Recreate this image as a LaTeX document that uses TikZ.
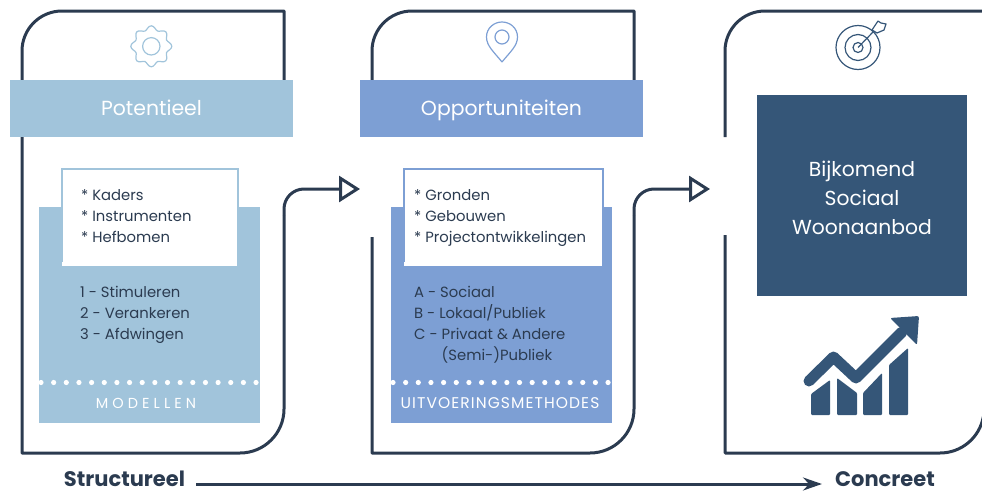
\documentclass[tikz,border=0pt]{standalone}
\usepackage{fontspec}
\setmainfont{Poppins}
\usetikzlibrary{arrows.meta}
\definecolor{inkblue}{HTML}{2B3B50}
\definecolor{navy}{HTML}{355678}
\definecolor{paleblue}{HTML}{A1C4DB}
\definecolor{midblue}{HTML}{7D9FD4}
\tikzset{
  banner/.style={fill=#1, minimum width=283pt, minimum height=57pt, inner sep=0pt, text=white, text height=15pt, text depth=5pt, font=\fontsize{20.4}{24}\selectfont},
  panel/.style={fill=#1, inner sep=0pt, anchor=north west},
  whitebox/.style={draw=#1, line width=2pt, fill=white, inner sep=0pt, anchor=north west},
  listing/.style={anchor=west, align=left, inner sep=0pt, text=inkblue, font=\fontsize{14.8}{21}\selectfont},
  caption/.style={text=white, inner sep=0pt},
  axislabel/.style={inner sep=0pt, text=inkblue, font=\fontsize{21}{23}\selectfont\bfseries},
  outline/.style={draw=inkblue, line width=3pt, line join=round},
  link/.style={outline, -{Triangle[open, length=21pt, width=26pt, line width=3pt]}}
}
\begin{document}
\begin{tikzpicture}[x=1pt, y=-1pt, >=stealth]
                \useasboundingbox (0, 0) rectangle (982, 490);
                \coordinate (hoek1) at (284, 215);
                \coordinate (hoek2) at (634, 215);
                \coordinate (pijl1) at (360, 189);
                \coordinate (pijl2) at (710, 189);
                % cards
                \draw[outline] (284, 90) -- (284, 11) -- (62, 11) arc[start angle=270, end angle=180, radius=40] -- (22, 453) -- (240, 453) arc[start angle=90, end angle=0, radius=44] -- (hoek1);
                \draw[outline] (634, 90) -- (634, 11) -- (412, 11) arc[start angle=270, end angle=180, radius=40] -- (372, 90);
                \draw[outline] (372, 237) -- (372, 453) -- (590, 453) arc[start angle=90, end angle=0, radius=44] -- (hoek2);
                \draw[outline] (982, 11) -- (765, 11) arc[start angle=270, end angle=180, radius=40] -- (725, 137);
                \draw[outline] (725, 235) -- (725, 453) -- (940, 453) arc[start angle=90, end angle=10, radius=44];
                % first column
                \node[banner=paleblue] (potentieel) at (151.5, 108.5) {\raisebox{-2pt}{Potentieel}};
                \node[panel=paleblue, minimum width=221pt, minimum height=216pt] (modellen) at (39, 207) {};
                \node[whitebox=paleblue, minimum width=176pt, minimum height=97pt] (kaders) at (61, 168) {};
                \fill[white] (62, 262) rectangle (237, 266);
                \node[listing] (middelen) at (81, 216) {* Kaders\\* Instrumenten\\* Hefbomen};
                \node[listing] (stappen) at (80, 315) {1 - Stimuleren\\2 - Verankeren\\3 - Afdwingen};
                \foreach \i in {0,...,17}
                    \fill[white] (41 + 12.65*\i, 382.5) circle (2.6);
                \node[caption, font=\fontsize{14.5}{16}\selectfont] (modellentekst) at (146, 403) {\addfontfeatures{LetterSpace=28}MODELLEN};
                % second column
                \node[banner=midblue] (opportuniteiten) at (501.5, 108.5) {\raisebox{-2pt}{Opportuniteiten}};
                \node[panel=midblue, minimum width=221pt, minimum height=216pt] (methodes) at (391, 207) {};
                \node[whitebox=midblue, minimum width=199pt, minimum height=97pt] (gronden) at (403, 168) {};
                \fill[white] (404, 262) rectangle (602, 266);
                \node[listing] (locaties) at (414, 218) {* Gronden\\* Gebouwen\\* Projectontwikkelingen};
                \node[listing] (partners) at (414, 325) {A - Sociaal\\B - Lokaal/Publiek\\C - Privaat \& Andere\\\phantom{C - }(Semi-)Publiek};
                \foreach \i in {0,...,17}
                    \fill[white] (393 + 12.65*\i, 382.5) circle (2.6);
                \node[caption, font=\fontsize{15.5}{16}\selectfont] (methodestekst) at (500, 403) {\addfontfeatures{LetterSpace=7}UITVOERINGSMETHODES};
                % third column
                \node[fill=navy, minimum width=210pt, minimum height=201pt, inner sep=0pt] (aanbod) at (862, 195.5) {};
                \node[inner sep=0pt, text=white, align=center, font=\fontsize{20.3}{29}\selectfont] (aanbodtekst) at (862, 197.5) {Bijkomend\\Sociaal\\Woonaanbod};
                % links between the columns
                \draw[link] (hoek1) -- (284, 209) arc[start angle=180, end angle=270, radius=20] -- (pijl1);
                \draw[link] (hoek2) -- (634, 209) arc[start angle=180, end angle=270, radius=20] -- (pijl2);
                % gear
                \draw[paleblue, line width=1.2pt] plot[smooth cycle, samples=64, domain=0:354.375] ({151.3 + (18.5 + 2*cos(8*\x))*cos(\x)}, {46.3 + (18.5 + 2*cos(8*\x))*sin(\x)});
                \draw[paleblue, line width=1.2pt] (151.3, 46.3) circle (8.7);
                % pin
                \draw[midblue, line width=1.2pt, line join=round] (502, 62) .. controls (494, 52) and (486.5, 46) .. (486.5, 37) .. controls (486.5, 28) and (494, 22) .. (502, 22) .. controls (510, 22) and (517.5, 28) .. (517.5, 37) .. controls (517.5, 46) and (510, 52) .. (502, 62);
                \draw[midblue, line width=1.2pt] (502, 37) circle (7);
                % target
                \draw[navy, line width=1.2pt] (858, 47.5) circle (22) (858, 47.5) circle (13) (858, 47.5) circle (5);
                \draw[navy, line width=1.2pt, line join=round] (858, 47.5) -- (873, 32) (872, 30) -- (878, 21) -- (881, 23) -- (886, 24) -- (884, 30) -- (877, 33) -- cycle;
                % growth chart
                \fill[navy, rounded corners=1pt] (811, 415) -- (830, 415) -- (830, 380) -- (811, 394) -- cycle;
                \fill[navy, rounded corners=1pt] (837, 415) -- (857, 415) -- (857, 393) -- (837, 378) -- cycle;
                \fill[navy, rounded corners=1pt] (863, 415) -- (882, 415) -- (882, 373) -- (863, 393) -- cycle;
                \fill[navy, rounded corners=1pt] (889, 415) -- (908, 415) -- (908, 348) -- (889, 365) -- cycle;
                \draw[navy, line width=11pt, line cap=round, line join=round] (809, 381) -- (833.5, 357) -- (856, 378) -- (902, 332);
                \fill[navy, rounded corners=2pt] (890, 318) -- (919, 316) -- (917, 345) -- cycle;
                % axis
                \node[axislabel] (structureel) at (124.5, 479) {Structureel};
                \node[axislabel] (concreet) at (885, 479) {Concreet};
                \draw[->, inkblue, line width=3pt, >={Stealth[length=19pt, width=13pt]}] ([xshift=11pt, yshift=-5pt]structureel.east) -- ([xshift=-13pt, yshift=-5pt]concreet.west);
            \end{tikzpicture}
\end{document}
